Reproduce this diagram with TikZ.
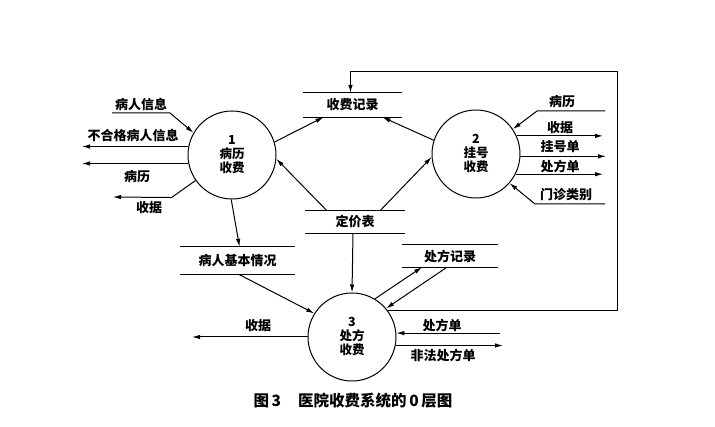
\documentclass[tikz,border=0pt]{standalone}
\usepackage{fontspec}
\newfontfamily\cjk{Noto Sans CJK SC}
\usetikzlibrary{arrows.meta}

\begin{document}
\begin{tikzpicture}[x=1pt, y=-1pt,
    proc/.style={circle, draw, line width=1pt, minimum size=88pt, inner sep=0pt,
      align=center, font=\cjk\bfseries\fontsize{12.5}{14}\selectfont},
    store/.style={inner sep=0pt, font=\cjk\bfseries\fontsize{13}{15}\selectfont},
    flow/.style={line width=1pt, -{Latex[length=8pt,width=4.5pt]}},
    lbl/.style={inner sep=0pt, font=\cjk\bfseries\fontsize{13}{15}\selectfont}
  ]
    \useasboundingbox (0,0) rectangle (715,427);

    % Processes
    \node[proc] (p1) at (232,155) {1\\病历\\收费};
    \node[proc] (p2) at (476,154) {2\\挂号\\收费};
    \node[proc] (p3) at (352,337) {3\\处方\\收费};

    % Data stores
    \node[store, minimum width=99pt,  minimum height=24pt] (rec)   at (352.5,105) {收费记录};
    \node[store, minimum width=100pt, minimum height=22pt] (price) at (355,222)   {定价表};
    \node[store, minimum width=115pt, minimum height=27pt] (info)  at (237.5,260.5) {病人基本情况};
    \node[store, minimum width=96pt,  minimum height=22pt] (rx)    at (450,256)   {处方记录};
    \foreach \s in {rec,price,info,rx}
      \draw[line width=1pt] (\s.north west) -- (\s.north east) (\s.south west) -- (\s.south east);

    % Free ends
    \coordinate (i1a) at (112,113);
    \coordinate (o1b) at (82,147);
    \coordinate (o1c) at (82,163);
    \coordinate (o1d) at (113,197);
    \coordinate (i2a) at (605,111);
    \coordinate (o2b) at (603,0);
    \coordinate (o2c) at (606,0);
    \coordinate (o2d) at (603,0);
    \coordinate (i2e) at (605,204);
    \coordinate (o3a) at (192,0);
    \coordinate (i3b) at (500,0);
    \coordinate (o3c) at (503,0);
    \coordinate (fb)  at (617,72);

    % Process 1
    \draw[flow] (i1a) -- ++(58,0) -- (p1.150);
    \draw[flow] (p1.169) -- (p1.169 -| o1b);
    \draw[flow] (p1.191) -- (p1.191 -| o1c);
    \draw[flow] (p1.215) -- ++(-24,17) -- (o1d);
    \draw[flow] (p1.17) -- ([xshift=-29pt]rec.south);
    \draw[flow] ([xshift=-28pt]price.north) -- (p1.355);
    \draw[flow] (p1.269) -- ([xshift=2pt]info.north);

    % Process 2
    \draw[flow] (i2a) -- ++(-68,0) -- (p2.34);
    \draw[flow] (p2.24) -- (p2.24 -| o2b);
    \draw[flow] (p2.357) -- (p2.357 -| o2c);
    \draw[flow] (p2.333) -- (p2.333 -| o2d);
    \draw[flow] (i2e) -- ++(-70,0) -- (p2.319);
    \draw[flow] (p2.162) -- ([xshift=30pt]rec.south);
    \draw[flow] ([xshift=25pt]price.north) -- (p2.184);

    % Process 3
    \draw[flow] ([xshift=-2pt]price.south) -- (p3.90);
    \draw[flow] ([xshift=1pt]info.south) -- (p3.148);
    \draw[flow] (p3.59) -- ([xshift=-28pt]rx.south);
    \draw[flow] ([xshift=-3pt]rx.south) -- (p3.40);
    \draw[flow] (p3.180) -- (p3.180 -| o3a);
    \draw[flow] (p3.5 -| i3b) -- (p3.5);
    \draw[flow] (p3.349) -- (p3.349 -| o3c);
    \draw[flow] (p3.36) -| (fb) -| ([xshift=-2pt]rec.north);

    % Labels
    \node[lbl] (l1a) at (141,105) {病人信息};
    \node[lbl] (l1b) at (133,136) {不合格病人信息};
    \node[lbl] (l1c) at (137,177) {病历};
    \node[lbl] (l1d) at (149,208) {收据};
    \node[lbl] (l2a) at (562,102) {病历};
    \node[lbl] (l2b) at (560,128) {收据};
    \node[lbl] (l2c) at (560,147) {挂号单};
    \node[lbl] (l2d) at (560,166) {处方单};
    \node[lbl] (l2e) at (566,195) {门诊类别};
    \node[lbl] (l3a) at (258,326) {收据};
    \node[lbl] (l3b) at (442,325) {处方单};
    \node[lbl] (l3c) at (443,355) {非法处方单};

    % Caption
    \node[lbl, font=\cjk\bfseries\fontsize{15.5}{17}\selectfont] (cap) at (353,401) {图\,3\hspace{1.1em}医院收费系统的\,0\,层图};
  \end{tikzpicture}
\end{document}
